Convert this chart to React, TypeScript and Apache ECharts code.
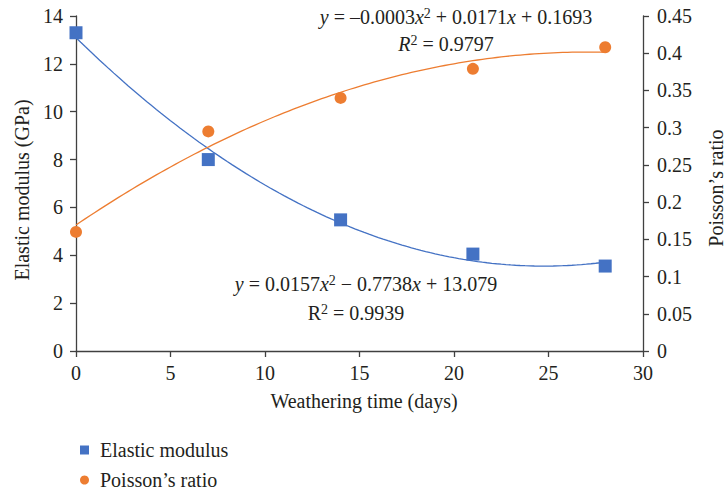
import React, { useEffect, useRef } from "react";
import * as echarts from "echarts";

// ---- data ----
const days = [0, 7, 14, 21, 28];
const elasticModulus = [13.3, 8.0, 5.48, 4.05, 3.55];
const poissonRatio = [0.16, 0.295, 0.34, 0.379, 0.408];
const seriesNames = ["Elastic modulus", "Poisson\u2019s ratio"];
const xTitle = "Weathering time (days)";
const yLeftTitle = "Elastic modulus (GPa)";
const yRightTitle = "Poisson\u2019s ratio";

const FONT = "Liberation Serif";
const BLUE = "#4472C4";
const ORANGE = "#ED7D31";
const TXT = "#231F20";

// least-squares quadratic trendline (as in a spreadsheet trendline)
function quadFit(xs: number[], ys: number[]): number[] {
  const s = [0, 0, 0, 0, 0];
  const t = [0, 0, 0];
  for (let i = 0; i < xs.length; i++) {
    let p = 1;
    for (let k = 0; k < 5; k++) {
      s[k] += p;
      if (k < 3) t[k] += p * ys[i];
      p *= xs[i];
    }
  }
  const M = [
    [s[0], s[1], s[2], t[0]],
    [s[1], s[2], s[3], t[1]],
    [s[2], s[3], s[4], t[2]],
  ];
  for (let c = 0; c < 3; c++) {
    for (let r = c + 1; r < 3; r++) {
      const f = M[r][c] / M[c][c];
      for (let k = c; k < 4; k++) M[r][k] -= f * M[c][k];
    }
  }
  const sol = [0, 0, 0];
  for (let r = 2; r >= 0; r--) {
    let v = M[r][3];
    for (let k = r + 1; k < 3; k++) v -= M[r][k] * sol[k];
    sol[r] = v / M[r][r];
  }
  return sol; // [c0, c1, c2]
}

function trend(xs: number[], ys: number[]): number[][] {
  const [a, b, c] = quadFit(xs, ys);
  const out: number[][] = [];
  const x0 = xs[0];
  const x1 = xs[xs.length - 1];
  const n = 112;
  for (let i = 0; i <= n; i++) {
    const x = x0 + ((x1 - x0) * i) / n;
    out.push([x, a + b * x + c * x * x]);
  }
  return out;
}

const base = { fontFamily: FONT, fontSize: 20, fill: TXT, lineHeight: 22 };
const rich = {
  n: { ...base },
  i: { ...base, fontStyle: "italic" },
  sup: { fontFamily: FONT, fontSize: 14, fill: TXT, lineHeight: 14, verticalAlign: "top" },
};

function eqText(x: number, y: number, text: string) {
  return {
    type: "text",
    x,
    y,
    silent: true,
    style: {
      text,
      rich,
      fontFamily: FONT,
      fontSize: 20,
      fill: TXT,
      align: "center",
      verticalAlign: "middle",
    },
  };
}

export default function App() {
  const ref = useRef<HTMLDivElement>(null);
  useEffect(() => {
    if (!ref.current) return;
    const chart = echarts.init(ref.current, null, { renderer: "svg" });
    const axisLine = { show: true, lineStyle: { color: "#404040", width: 1.3 } };
    const axisTick = { show: true, length: 6, inside: false, lineStyle: { color: "#404040", width: 1.3 } };
    const axisLabel = { color: TXT, fontFamily: FONT, fontSize: 20 };
    chart.setOption({
      animation: false,
      backgroundColor: "#ffffff",
      grid: { left: 76, right: 83, top: 16, bottom: 144, containLabel: false },
      xAxis: {
        type: "value",
        min: 0,
        max: 30,
        interval: 5,
        axisLine: { ...axisLine, onZero: false },
        axisTick,
        axisLabel: { ...axisLabel, margin: 12 },
        splitLine: { show: false },
      },
      yAxis: [
        {
          type: "value",
          min: 0,
          max: 14,
          interval: 2,
          position: "left",
          axisLine,
          axisTick,
          axisLabel: { ...axisLabel, margin: 13 },
          splitLine: { show: false },
        },
        {
          type: "value",
          min: 0,
          max: 0.45,
          interval: 0.05,
          position: "right",
          axisLine,
          axisTick,
          axisLabel: {
            ...axisLabel,
            margin: 14,
            formatter: (v: number) => String(parseFloat(v.toFixed(2))),
          },
          splitLine: { show: false },
        },
      ],
      legend: {
        orient: "vertical",
        left: 80,
        top: 439,
        padding: 0,
        itemWidth: 9,
        itemHeight: 9,
        itemGap: 8,
        data: [
          { name: seriesNames[0], icon: "rect" },
          { name: seriesNames[1], icon: "circle" },
        ],
        textStyle: {
          color: TXT,
          fontFamily: FONT,
          fontSize: 20,
          lineHeight: 22,
          padding: [0, 0, 0, 6],
        },
      },
      series: [
        {
          name: "trend-em",
          type: "line",
          yAxisIndex: 0,
          data: trend(days, elasticModulus),
          showSymbol: false,
          symbol: "none",
          lineStyle: { color: BLUE, width: 1.3 },
          z: 2,
          silent: true,
        },
        {
          name: "trend-pr",
          type: "line",
          yAxisIndex: 1,
          data: trend(days, poissonRatio),
          showSymbol: false,
          symbol: "none",
          lineStyle: { color: ORANGE, width: 1.3 },
          z: 2,
          silent: true,
        },
        {
          name: seriesNames[0],
          type: "scatter",
          yAxisIndex: 0,
          symbol: "rect",
          symbolSize: 13,
          itemStyle: { color: BLUE, opacity: 1 },
          data: days.map((d, i) => [d, elasticModulus[i]]),
          z: 5,
        },
        {
          name: seriesNames[1],
          type: "scatter",
          yAxisIndex: 1,
          symbol: "circle",
          symbolSize: 12,
          itemStyle: { color: ORANGE, opacity: 1 },
          data: days.map((d, i) => [d, poissonRatio[i]]),
          z: 5,
        },
      ],
      graphic: [
        {
          type: "text",
          x: 364,
          y: 401,
          silent: true,
          style: { text: xTitle, fontFamily: FONT, fontSize: 20, fill: TXT, align: "center", verticalAlign: "middle" },
        },
        {
          type: "text",
          x: 22,
          y: 190,
          rotation: Math.PI / 2,
          silent: true,
          style: { text: yLeftTitle, fontFamily: FONT, fontSize: 20, fill: TXT, align: "center", verticalAlign: "middle" },
        },
        {
          type: "text",
          x: 716,
          y: 188,
          rotation: Math.PI / 2,
          silent: true,
          style: { text: yRightTitle, fontFamily: FONT, fontSize: 20, fill: TXT, align: "center", verticalAlign: "middle" },
        },
        eqText(456, 17, "{i|y}{n| = \u20130.0003}{i|x}{sup|2}{n| + 0.0171}{i|x}{n| + 0.1693}"),
        eqText(446, 44, "{i|R}{sup|2}{n| = 0.9797}"),
        eqText(366, 284, "{i|y}{n| = 0.0157}{i|x}{sup|2}{n| \u2212 0.7738}{i|x}{n| + 13.079}"),
        eqText(356, 313, "{n|R}{sup|2}{n| = 0.9939}"),
      ],
    });
    return () => chart.dispose();
  }, []);
  return (
    <div
      ref={ref}
      style={{ position: "absolute", left: 0, top: 0, width: 726, height: 495, background: "#fff" }}
    />
  );
}
